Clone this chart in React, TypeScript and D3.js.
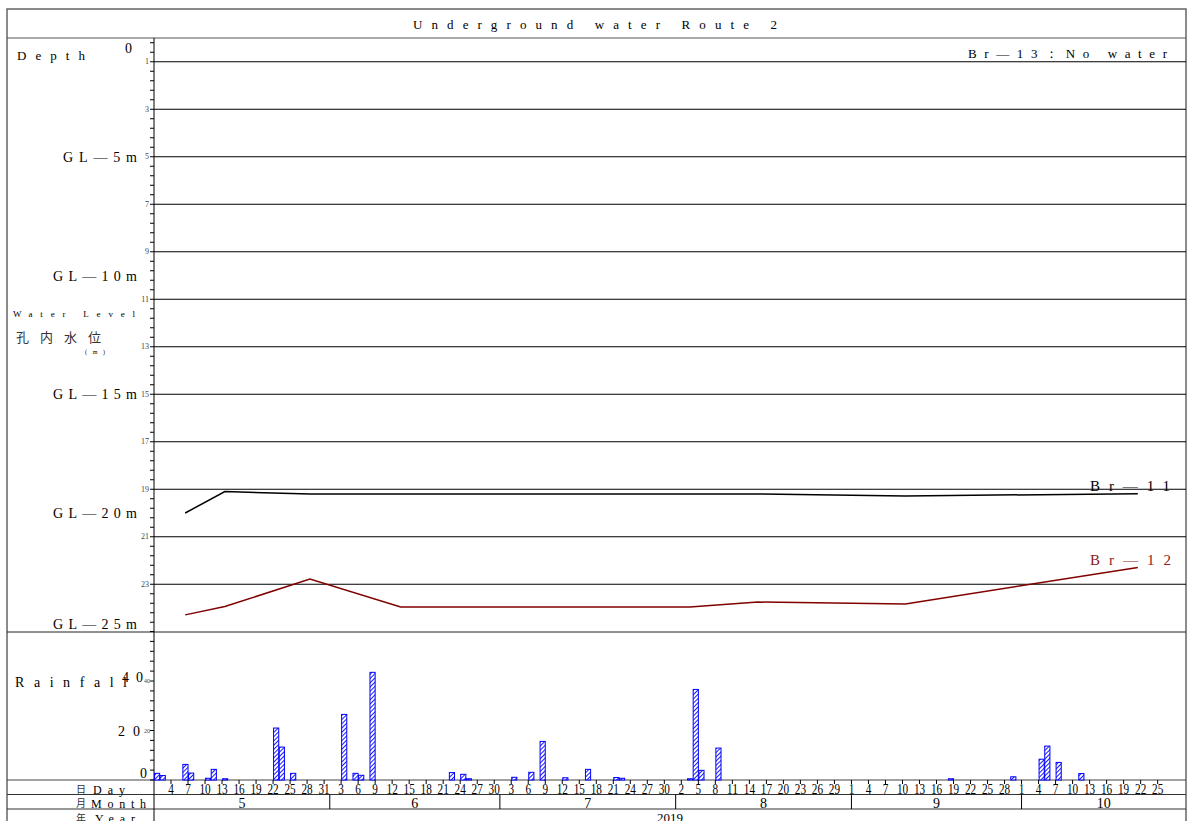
import React from "react";
import * as d3 from "d3";

// rainfall (mm/day)
const rainDates = [
  "2019-05-01", "2019-05-02", "2019-05-06", "2019-05-07", "2019-05-10", "2019-05-11", "2019-05-13",
  "2019-05-22", "2019-05-23", "2019-05-25", "2019-06-03", "2019-06-05", "2019-06-06", "2019-06-08",
  "2019-06-22", "2019-06-24", "2019-06-25", "2019-07-03", "2019-07-06", "2019-07-08", "2019-07-12",
  "2019-07-16", "2019-07-21", "2019-07-22", "2019-08-03", "2019-08-04", "2019-08-05", "2019-08-08",
  "2019-09-18", "2019-09-29", "2019-10-04", "2019-10-05", "2019-10-07", "2019-10-11",
];
const rainValues = [
  2.7, 1.8, 6.3, 2.8, 0.7, 4.3, 0.5,
  21.0, 13.3, 2.7, 26.5, 2.7, 1.9, 43.5,
  3.0, 2.3, 0.5, 1.1, 3.1, 15.6, 0.9,
  4.3, 1.0, 0.7, 0.5, 36.6, 3.9, 12.9,
  0.5, 1.3, 8.4, 13.7, 7.1, 2.6,
];

// water level measurements (depth below GL, m)
const levelDates = ["2019-05-06", "2019-05-13", "2019-05-28", "2019-06-13", "2019-08-03", "2019-08-15", "2019-09-10", "2019-10-21"];
const br11 = [20.0, 19.1, 19.2, 19.2, 19.2, 19.2, 19.28, 19.19];
const br12 = [24.29, 23.94, 22.78, 23.96, 23.96, 23.75, 23.83, 22.29];

const gridDepths = [1, 3, 5, 7, 9, 11, 13, 15, 17, 19, 21, 23];
const glLabels = ["GL—5m", "GL—10m", "GL—15m", "GL—20m", "GL—25m"];
const glDepths = [5, 10, 15, 20, 25];
const rainLabels = [20, 40];
const months = [5, 6, 7, 8, 9, 10];

const parse = d3.utcParse("%Y-%m-%d");
const L = 7, R = 1186, AX = 154;
const serif = "'Liberation Serif', 'DejaVu Serif', serif";
const jp = "'Noto Sans CJK JP', sans-serif";

export default function App() {
  const start = parse("2019-05-01")!;
  const end = parse("2019-10-30")!;
  const x = d3.scaleUtc().domain([start, end]).range([AX, R]);
  const y = d3.scaleLinear().domain([0, 25]).range([38, 631.75]);
  const yr = d3.scaleLinear().domain([0, 60]).range([780, 631.5]);

  const minorDepth = d3.range(0.2, 25, 0.4);
  const minorRain = d3.range(0, 61, 4);
  const dayTicks = d3.utcDay.range(start, end, 3).filter((d, i) => i > 0 && d <= parse("2019-10-25")!);

  const line = d3.line<[Date, number]>()
    .x((d) => x(d3.utcHour.offset(d[0], 12)))
    .y((d) => y(d[1]));
  const lv = levelDates.map((s) => parse(s)!);
  const p11 = lv.map((d, i) => [d, br11[i]] as [Date, number]);
  const p12 = lv.map((d, i) => [d, br12[i]] as [Date, number]);

  const monthStarts = months.map((m) => new Date(Date.UTC(2019, m - 1, 1)));

  return (
    <svg width={1188} height={821} style={{ position: "absolute", left: 0, top: 0, background: "#fff" }}>
      <defs>
        <pattern id="hatch" patternUnits="userSpaceOnUse" width={3} height={3} patternTransform="rotate(45)">
          <rect width={3} height={3} fill="#fff" />
          <line x1={0} y1={0} x2={0} y2={3} stroke="#1a1aff" strokeWidth={2} />
        </pattern>
      </defs>

      {/* frame */}
      <rect x={L} y={9} width={R - L} height={830} fill="none" stroke="#666" strokeWidth={1.5} />
      <line x1={L} x2={R} y1={38} y2={38} stroke="#555" />
      <line x1={L} x2={R} y1={632} y2={632} stroke="#222" />
      <line x1={L} x2={R} y1={780} y2={780} stroke="#444" strokeWidth={1.2} />
      <line x1={L} x2={R} y1={794.5} y2={794.5} stroke="#333" />
      <line x1={L} x2={R} y1={809} y2={809} stroke="#333" />
      <line x1={AX} x2={AX} y1={38} y2={821} stroke="#000" />

      <text x={595} y={29} textAnchor="middle" fontFamily={serif} fontSize={13} textLength={364} lengthAdjust="spacing">Underground water Route 2</text>

      {/* depth grid */}
      {gridDepths.map((d) => (
        <line key={d} x1={AX} x2={R} y1={y(d)} y2={y(d)} stroke="#000" />
      ))}
      {minorDepth.map((d, i) => (
        <line key={i} x1={AX - 4} x2={AX} y1={y(d)} y2={y(d)} stroke="#000" />
      ))}
      {gridDepths.map((d) => (
        <text key={d} x={AX - 5} y={y(d) + 2.5} textAnchor="end" fontFamily={serif} fontSize={8} fill="#444">{d}</text>
      ))}
      <text x={132} y={53} textAnchor="end" fontFamily={serif} fontSize={14}>0</text>
      {glLabels.map((t, i) => (
        <text key={t} x={137} y={glDepths[i] === 25 ? 629 : y(glDepths[i]) + 5} textAnchor="end" fontFamily={serif} fontSize={14}
          textLength={i === 0 ? 74 : 84} lengthAdjust="spacing">{t}</text>
      ))}

      <text x={17} y={60} fontFamily={serif} fontSize={13} textLength={68} lengthAdjust="spacing">Depth</text>
      <text x={13} y={317} fontFamily={serif} fontSize={9} textLength={122} lengthAdjust="spacing">Water Level</text>
      <text x={16} y={342} fontFamily={jp} fontSize={13} textLength={85} lengthAdjust="spacing" fill="#333">孔内水位</text>
      <text x={85} y={354} fontFamily={serif} fontSize={6} textLength={20} lengthAdjust="spacing">(m)</text>
      <text x={968} y={58} fontFamily={serif} fontSize={13} textLength={199} lengthAdjust="spacing">Br—13：No water</text>

      {/* water level lines */}
      <path d={line(p11)!} fill="none" stroke="#000" strokeWidth={1.5} />
      <path d={line(p12)!} fill="none" stroke="#800000" strokeWidth={1.5} />
      <text x={1090} y={491} fontFamily={serif} fontSize={15} textLength={80} lengthAdjust="spacing">Br—11</text>
      <text x={1090} y={565} fontFamily={serif} fontSize={15} textLength={81} lengthAdjust="spacing" fill="#8b1a1a">Br—12</text>

      {/* rainfall */}
      {minorRain.map((v) => (
        <line key={v} x1={AX - 4} x2={AX} y1={yr(v)} y2={yr(v)} stroke="#000" />
      ))}
      {rainLabels.map((v) => (
        <text key={v} x={AX - 4} y={yr(v) + 2} textAnchor="end" fontFamily={serif} fontSize={6} fill="#444">{v}</text>
      ))}
      <text x={15} y={687} fontFamily={serif} fontSize={14} textLength={112} lengthAdjust="spacing">Rainfall</text>
      <text x={143} y={682} textAnchor="end" fontFamily={serif} fontSize={14} textLength={21} lengthAdjust="spacing">40</text>
      <text x={140} y={736} textAnchor="end" fontFamily={serif} fontSize={14} textLength={22} lengthAdjust="spacing">20</text>
      <text x={147} y={778} textAnchor="end" fontFamily={serif} fontSize={14}>0</text>
      {rainDates.map((s, i) => {
        const d = parse(s)!;
        const x0 = x(d), x1 = x(d3.utcDay.offset(d, 1));
        return (
          <rect key={s} x={x0 + 0.5} y={yr(rainValues[i])} width={x1 - x0 - 0.5} height={yr(0) - yr(rainValues[i])}
            fill="url(#hatch)" stroke="#0000ff" strokeWidth={1} />
        );
      })}

      {/* date rows */}
      {dayTicks.map((d) => {
        const label = String(d.getUTCDate());
        return (
          <g key={+d}>
            <line x1={x(d)} x2={x(d)} y1={780} y2={784} stroke="#000" />
            <text x={x(d)} y={793.5} textAnchor="middle" fontFamily={serif} fontSize={14.5}
              textLength={label.length * 5.6} lengthAdjust="spacingAndGlyphs">{label}</text>
          </g>
        );
      })}
      {monthStarts.slice(1).map((d) => (
        <line key={+d} x1={x(d)} x2={x(d)} y1={794.5} y2={809} stroke="#000" />
      ))}
      {monthStarts.map((d, i) => {
        const next = i < months.length - 1 ? monthStarts[i + 1] : end;
        return (
          <text key={+d} x={(x(d) + x(next)) / 2} y={807.5} textAnchor="middle" fontFamily={serif} fontSize={14}>{months[i]}</text>
        );
      })}
      <text x={(AX + R) / 2} y={822} textAnchor="middle" fontFamily={serif} fontSize={13}>2019</text>

      <text x={76} y={793} fontFamily={jp} fontSize={10} fill="#333">日</text>
      <text x={93} y={794} fontFamily={serif} fontSize={12} textLength={32} lengthAdjust="spacing">Day</text>
      <text x={76} y={807} fontFamily={jp} fontSize={10} fill="#333">月</text>
      <text x={91} y={808} fontFamily={serif} fontSize={12} textLength={55} lengthAdjust="spacing">Month</text>
      <text x={76} y={822} fontFamily={jp} fontSize={10} fill="#333">年</text>
      <text x={95} y={823} fontFamily={serif} fontSize={12} textLength={40} lengthAdjust="spacing">Year</text>
    </svg>
  );
}
